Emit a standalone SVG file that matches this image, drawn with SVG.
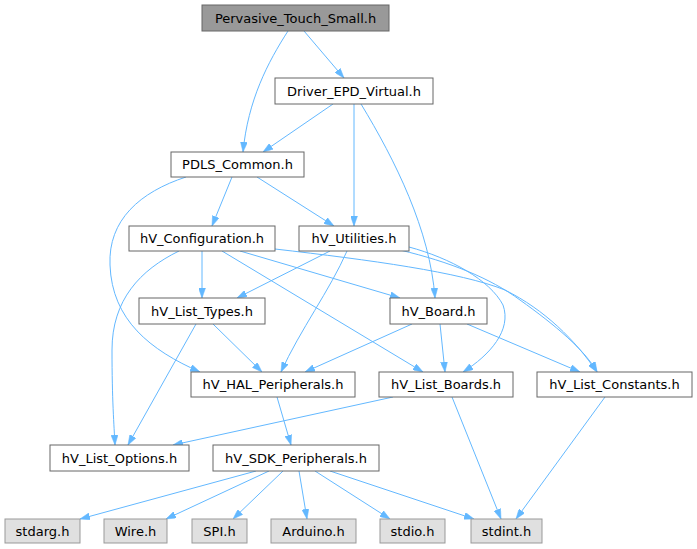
<svg xmlns="http://www.w3.org/2000/svg" width="697" height="549" viewBox="0 0 697 549">
<defs>
<style>
.n rect{fill:#ffffff;stroke:#666666;stroke-width:1}
.root rect{fill:#999999;stroke:#666666}
.ext rect{fill:#e0e0e0;stroke:#999999}
text{font-family:"DejaVu Sans","Liberation Sans",sans-serif;font-size:13px;fill:#000;text-anchor:middle}
.e path{fill:none;stroke:#63b8ff;stroke-width:1;marker-end:url(#a)}
</style>
<marker id="a" viewBox="0 0 10 7" refX="10" refY="3.5" markerWidth="10" markerHeight="7" markerUnits="userSpaceOnUse" orient="auto">
<path d="M0,0 L10,3.5 L0,7 z" fill="#63b8ff" stroke="#63b8ff" stroke-width="0.5"/>
</marker>
</defs>
<rect width="697" height="549" fill="#ffffff"/>
<g id="edges" class="e">
<path d="M304,31 L344,78"/>
<path d="M288,31 C268,62 248,100 243,152"/>
<path d="M333,104 L263,152"/>
<path d="M354,104 L354,226"/>
<path d="M361,104 C395,160 430,230 435,298"/>
<path d="M232,177 L212,226"/>
<path d="M257,177 L334,226"/>
<path d="M186,177 C140,192 108,220 110,265 C112,320 150,350 200,372"/>
<path d="M202,251 L202,298"/>
<path d="M179,251 C140,270 112,300 112,350 C112,400 114,425 115,445"/>
<path d="M240,251 L400,298"/>
<path d="M222,251 L423,372"/>
<path d="M275,249 C370,260 460,272 505,290 C545,310 575,340 597,372"/>
<path d="M400,250 C450,262 490,278 520,300 C555,325 585,350 597,372"/>
<path d="M409,247 C450,258 490,280 503,305 C512,330 490,355 463,372"/>
<path d="M330,251 L237,298"/>
<path d="M347,251 C330,290 300,330 281,372"/>
<path d="M213,324 L262,372"/>
<path d="M196,324 L128,445"/>
<path d="M412,324 L305,372"/>
<path d="M440,324 L445,372"/>
<path d="M467,324 L580,372"/>
<path d="M277,397 L291,445"/>
<path d="M393,397 L173,445"/>
<path d="M452,397 L501,519"/>
<path d="M605,397 L516,519"/>
<path d="M256,471 L80,519"/>
<path d="M269,471 L166,519"/>
<path d="M283,471 L233,519"/>
<path d="M299,471 L307,519"/>
<path d="M315,471 L390,519"/>
<path d="M330,471 L474,519"/>
</g>
<g id="root" class="n root"><rect x="202" y="5" width="187" height="26"/><text x="295.5" y="22.5">Pervasive_Touch_Small.h</text></g>
<g id="driver" class="n"><rect x="275" y="78" width="158" height="26"/><text x="354" y="95.5">Driver_EPD_Virtual.h</text></g>
<g id="pdls" class="n"><rect x="171" y="152" width="133" height="25"/><text x="237.5" y="169">PDLS_Common.h</text></g>
<g id="config" class="n"><rect x="129" y="226" width="146" height="25"/><text x="202" y="243">hV_Configuration.h</text></g>
<g id="utilities" class="n"><rect x="299" y="226" width="110" height="25"/><text x="354" y="243">hV_Utilities.h</text></g>
<g id="listtypes" class="n"><rect x="139" y="298" width="126" height="26"/><text x="202" y="315.5">hV_List_Types.h</text></g>
<g id="board" class="n"><rect x="390" y="298" width="97" height="26"/><text x="438.5" y="315.5">hV_Board.h</text></g>
<g id="hal" class="n"><rect x="191" y="372" width="164" height="25"/><text x="273" y="389">hV_HAL_Peripherals.h</text></g>
<g id="listboards" class="n"><rect x="379" y="372" width="134" height="25"/><text x="446" y="389">hV_List_Boards.h</text></g>
<g id="listconstants" class="n"><rect x="537" y="372" width="155" height="25"/><text x="614.5" y="389">hV_List_Constants.h</text></g>
<g id="listoptions" class="n"><rect x="50" y="445" width="139" height="26"/><text x="119.5" y="462.5">hV_List_Options.h</text></g>
<g id="sdk" class="n"><rect x="213" y="445" width="166" height="26"/><text x="296" y="462.5">hV_SDK_Peripherals.h</text></g>
<g id="stdarg" class="n ext"><rect x="5" y="519" width="75" height="24"/><text x="42.5" y="535.5">stdarg.h</text></g>
<g id="wire" class="n ext"><rect x="104" y="519" width="63" height="24"/><text x="135.5" y="535.5">Wire.h</text></g>
<g id="spi" class="n ext"><rect x="192" y="519" width="55" height="24"/><text x="219.5" y="535.5">SPI.h</text></g>
<g id="arduino" class="n ext"><rect x="271" y="519" width="85" height="24"/><text x="313.5" y="535.5">Arduino.h</text></g>
<g id="stdio" class="n ext"><rect x="380" y="519" width="65" height="24"/><text x="412.5" y="535.5">stdio.h</text></g>
<g id="stdint" class="n ext"><rect x="471" y="519" width="71" height="24"/><text x="506.5" y="535.5">stdint.h</text></g>
</svg>
